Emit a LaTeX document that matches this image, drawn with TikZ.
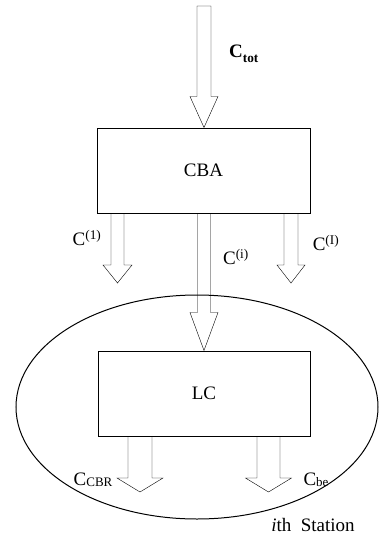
\documentclass[tikz,border=0pt]{standalone}
\usepackage{fontspec}
\setmainfont{Liberation Serif}
\usetikzlibrary{calc,shapes.geometric}
\tikzset{
  x=1pt,y=1pt,
  every node/.style={font=\fontsize{19}{21}\selectfont},
  boxnode/.style={draw,line width=1pt,inner sep=0pt,minimum width=#1,minimum height=85pt},
  fat/.style args={#1/#2/#3}{line width=1pt,to path={
    let \p1=(\tikztostart), \p2=(\tikztotarget) in
    (\x1-#1,\y1) -- (\x1-#1,\y2+#3) -- (\x1-#2,\y2+#3) -- (\x1,\y2)
    -- (\x1+#2,\y2+#3) -- (\x1+#1,\y2+#3) -- (\x1+#1,\y1)}},
  fatc/.style args={#1/#2/#3}{line width=1pt,to path={
    let \p1=(\tikztostart), \p2=(\tikztotarget) in
    (\x1-#1,\y1) -- (\x1-#1,\y2+#3) -- (\x1-#2,\y2+#3) -- (\x1,\y2)
    -- (\x1+#2,\y2+#3) -- (\x1+#1,\y2+#3) -- (\x1+#1,\y1) -- cycle}},
  lbl/.style={inner sep=0pt}
}
\begin{document}
\begin{tikzpicture}
\useasboundingbox (0,0) rectangle (379,-542);
% nodes
\node[boxnode=213pt] (cba) at (203.5,-170.5) {CBA};
\node[boxnode=212pt] (lc) at (204,-393.5) {LC};
\node[draw,ellipse,line width=1pt,inner sep=0pt,minimum width=362pt,minimum height=224pt] (st) at (197,-407) {};
% free ends
\coordinate (top) at (204,-6);
\coordinate (e1) at (117.5,-283);
\coordinate (eI) at (291,-283);
\coordinate (ecbr) at (140,-492);
\coordinate (ebe) at (268.5,-492);
% arrows
\draw (top) to[fatc=7/14/31] (cba.north);
\draw (e1 |- cba.south) to[fat=6.5/14.5/18] (e1);
\draw (cba.south -| lc.north) to[fat=6.5/14/38] (lc.north);
\draw (eI |- cba.south) to[fat=7/14/18] (eI);
\draw (ecbr |- lc.south) to[fat=12/23/14] (ecbr);
\draw (ebe |- lc.south) to[fat=11.5/23/14] (ebe);
% labels
\node[lbl] (lctot) at (244,-54) {\textbf{C\textsubscript{\raisebox{-0.35ex}{tot}}}};
\node[lbl] (l1) at (87,-238) {C\textsuperscript{(1)}};
\node[lbl] (li) at (236,-257) {C\textsuperscript{(i)}};
\node[lbl] (lI) at (326,-243) {C\textsuperscript{(I)}};
\node[lbl] (lcbr) at (93,-480) {C{\fontsize{13}{14}\selectfont\raisebox{-0.2ex}{CBR}}};
\node[lbl] (lbe) at (316,-480) {C{\fontsize{13}{14}\selectfont\raisebox{-0.2ex}{be}}};
\node[lbl] (lst) at (313,-525) {\textit{i}th\ \ Station};
\end{tikzpicture}
\end{document}
